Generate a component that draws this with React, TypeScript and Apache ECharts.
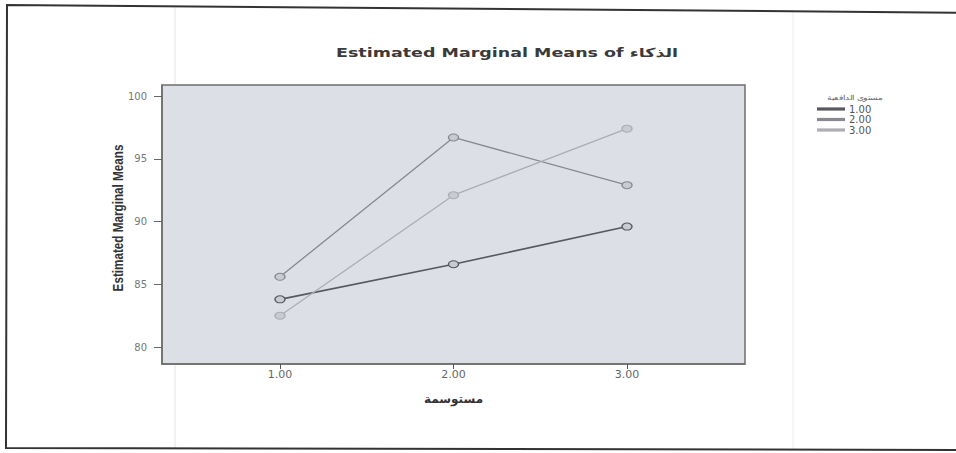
import React, { useEffect, useRef } from "react";
import * as echarts from "echarts";

const chartTitle = "Estimated Marginal Means of الذكاء";
const yAxisTitle = "Estimated Marginal Means";
const xAxisTitle = "مستوسمة";
const legendTitle = "مستوى الدافعية";
const categories = [1, 2, 3];
const seriesNames = ["1.00", "2.00", "3.00"];
const series1 = [83.8, 86.6, 89.6];
const series2 = [85.6, 96.7, 92.9];
const series3 = [82.5, 92.1, 97.4];
const yTicks = [80, 85, 90, 95, 100];

const lineColors = ["#58585e", "#8a8790", "#adadb4"];
const ellipseSymbol = "path://M0,50 A50,50 0 1,1 100,50 A50,50 0 1,1 0,50 Z";

export default function App() {
  const ref = useRef<HTMLDivElement>(null);
  useEffect(() => {
    if (!ref.current) return;
    const chart = echarts.init(ref.current, null, { renderer: "svg" });
    const allSeries = [series1, series2, series3];
    const wideFont = "DejaVu Sans, Verdana, sans-serif";
    chart.setOption({
      animation: false,
      backgroundColor: "#ffffff",
      grid: {
        left: 162,
        right: 211,
        top: 85,
        bottom: 89,
        show: true,
        backgroundColor: "#dcdfe6",
        borderColor: "#6e6e6e",
        borderWidth: 1.5,
      },
      legend: {
        data: seriesNames,
        orient: "vertical",
        left: 817,
        top: 104,
        padding: 0,
        icon: "rect",
        itemWidth: 26,
        itemHeight: 1.2,
        itemGap: 0.5,
        textStyle: { fontFamily: wideFont, fontSize: 10, lineHeight: 9, color: "#555" },
      },
      xAxis: {
        type: "value",
        min: 0.32,
        max: 3.68,
        name: xAxisTitle,
        nameLocation: "middle",
        nameGap: 28,
        nameTextStyle: { fontFamily: "Noto Sans, DejaVu Sans, sans-serif", fontSize: 12, color: "#333", fontWeight: "bold" },
        axisLine: { show: true, lineStyle: { color: "#6e6e6e", width: 1.5 } },
        axisTick: { show: true, customValues: categories, length: 5, lineStyle: { color: "#555" } },
        axisLabel: {
          customValues: categories,
          formatter: (v: number) => v.toFixed(2),
          fontFamily: wideFont,
          fontSize: 11,
          color: "#666",
          margin: 5,
        },
        splitLine: { show: false },
      },
      yAxis: {
        type: "value",
        min: 78.65,
        max: 100.88,
        axisLine: { show: true, lineStyle: { color: "#6e6e6e", width: 1.5 } },
        axisTick: { show: true, customValues: yTicks, length: 8, lineStyle: { color: "#666" } },
        axisLabel: {
          customValues: yTicks,
          fontFamily: wideFont,
          fontSize: 10,
          color: "#777",
          margin: 15,
        },
        splitLine: { show: false },
      },
      graphic: [
        {
          type: "polyline",
          shape: { points: [[1000, 13], [7, 5], [6, 448], [1000, 450]] },
          style: { fill: "none", stroke: "#333", lineWidth: 2 },
          silent: true,
        },
        {
          type: "line",
          shape: { x1: 175, y1: 6, x2: 175, y2: 449 },
          style: { stroke: "#e4e4e4", lineWidth: 1 },
          silent: true,
          z: -1,
        },
        {
          type: "line",
          shape: { x1: 793, y1: 12, x2: 793, y2: 449 },
          style: { stroke: "#ececec", lineWidth: 1 },
          silent: true,
          z: -1,
        },
        {
          type: "text",
          x: 336,
          y: 53,
          scaleX: 1.4,
          style: {
            text: chartTitle,
            fontFamily: wideFont,
            fontSize: 12.5,
            fontWeight: "bold",
            fill: "#3a3a3a",
            align: "left",
            verticalAlign: "middle",
          },
          silent: true,
        },
        {
          type: "text",
          x: 118,
          y: 218,
          rotation: Math.PI / 2,
          scaleX: 0.78,
          style: {
            text: yAxisTitle,
            fontFamily: "Liberation Sans, Arial, sans-serif",
            fontSize: 15,
            fontWeight: "bold",
            fill: "#333",
            align: "center",
            verticalAlign: "middle",
          },
          silent: true,
        },
        {
          type: "text",
          x: 855,
          y: 97,
          scaleX: 1.3,
          style: {
            text: legendTitle,
            fontSize: 7,
            fill: "#666",
            fontFamily: "Noto Sans, sans-serif",
            align: "center",
            verticalAlign: "middle",
          },
          silent: true,
        },
      ],
      series: allSeries.map((vals, i) => ({
        name: seriesNames[i],
        type: "line",
        data: categories.map((c, j) => [c, vals[j]]),
        symbol: ellipseSymbol,
        symbolSize: [10, 7],
        showSymbol: true,
        lineStyle: { color: lineColors[i], width: i === 0 ? 1.6 : 1.3 },
        itemStyle: { color: "#c9cbd2", borderColor: lineColors[i], borderWidth: 1.2 },
      })),
    });
    return () => chart.dispose();
  }, []);
  return <div ref={ref} style={{ position: "fixed", left: 0, top: 0, width: 956, height: 453 }} />;
}
